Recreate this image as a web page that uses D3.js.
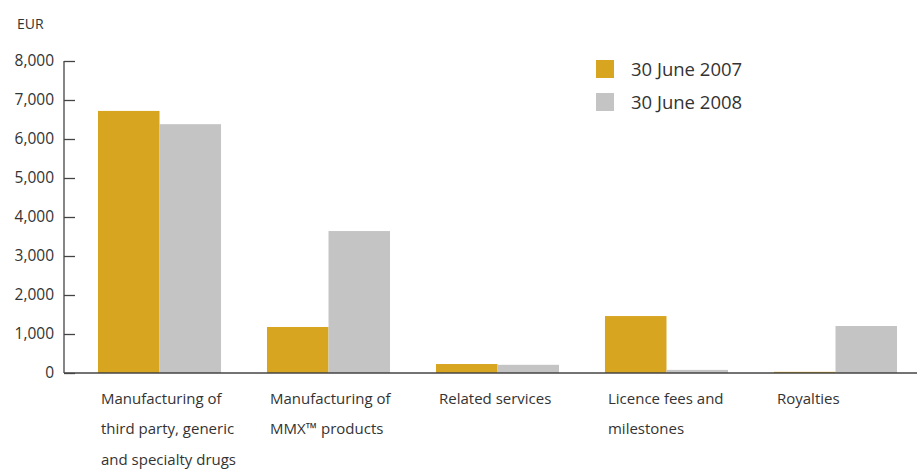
<!DOCTYPE html>
<html><head><meta charset="utf-8">
<script src="https://cdn.jsdelivr.net/npm/d3@7/dist/d3.min.js"></script>
<style>body{margin:0;background:#fff}text{font-family:"Open Sans","Noto Sans",sans-serif;fill:#333}</style>
</head><body><svg id="c" width="917" height="469"></svg>
<script>
const categories = [
  ["Manufacturing of","third party, generic","and specialty drugs"],
  ["Manufacturing of","MMX\u2122 products"],
  ["Related services"],
  ["Licence fees and","milestones"],
  ["Royalties"]
];
const seriesNames = ["30 June 2007","30 June 2008"];
const values2007 = [6720, 1180, 230, 1460, 30];
const values2008 = [6380, 3640, 210, 80, 1205];
const yTicks = [0,1000,2000,3000,4000,5000,6000,7000,8000];
const colors = ["#D8A520","#C4C4C4"];

const svg = d3.select("#c");
const keys = categories.map((c,i)=>"c"+i);
const x = d3.scaleBand().domain(keys).range([98,897]).paddingInner(0.272).paddingOuter(0);
const xs = d3.scaleBand().domain([0,1]).range([0,x.bandwidth()]);
const y = d3.scaleLinear().domain([0,8000]).range([373,61]);

// bars
const series = [values2007, values2008];
series.forEach((vals,si)=>{
  svg.append("g").selectAll("rect").data(vals).join("rect")
    .attr("x",(d,i)=>x(keys[i])+xs(si))
    .attr("width",xs.bandwidth())
    .attr("y",d=>y(d))
    .attr("height",d=>y(0)-y(d))
    .attr("fill",colors[si]);
});

// y axis
const yAxis = d3.axisRight(y).tickValues(yTicks).tickSize(11).tickFormat("");
const ya = svg.append("g").attr("transform","translate(64,0)").call(yAxis);
ya.select(".domain").remove();
ya.selectAll(".tick line").attr("stroke","#444").attr("stroke-width",1.3);
svg.append("line").attr("x1",64).attr("x2",64).attr("y1",y(8000)).attr("y2",y(0)).attr("stroke","#444").attr("stroke-width",1.3);
svg.append("g").selectAll("text").data(yTicks).join("text")
  .attr("x",54).attr("y",d=>y(d)).attr("dy","0.35em").attr("text-anchor","end")
  .attr("font-size",15.5).text(d=>d3.format(",")(d));
// baseline
svg.append("line").attr("x1",64).attr("x2",917).attr("y1",y(0)).attr("y2",y(0)).attr("stroke","#444").attr("stroke-width",1.6);

svg.append("text").attr("x",17).attr("y",29).attr("font-size",14).text("EUR");

// category labels
categories.forEach((lines,i)=>{
  const t = svg.append("text").attr("font-size",15);
  lines.forEach((l,j)=>t.append("tspan").attr("x",x(keys[i])+3).attr("y",404+j*30.3).text(l));
});

// legend
seriesNames.forEach((n,i)=>{
  svg.append("rect").attr("x",596).attr("y",60+i*33).attr("width",18).attr("height",18).attr("fill",colors[i]);
  svg.append("text").attr("x",631).attr("y",76+i*33).attr("font-size",18.5).text(n);
});
</script></body></html>
